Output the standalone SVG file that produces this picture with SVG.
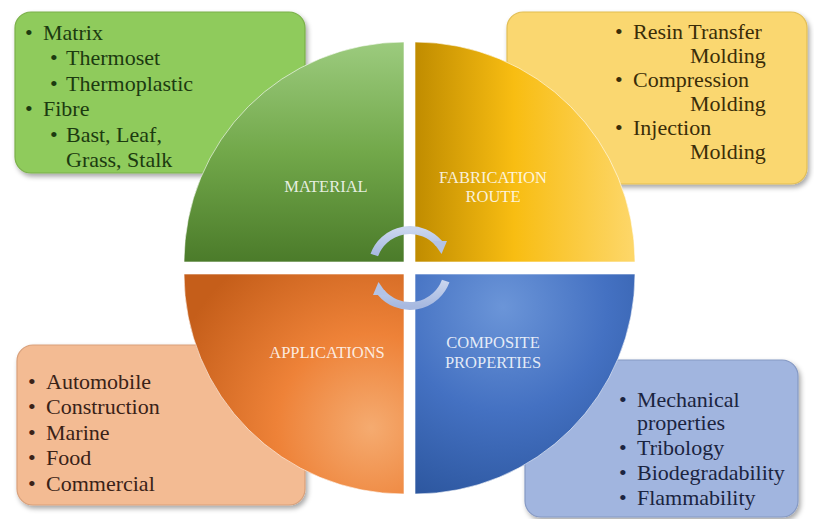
<svg xmlns="http://www.w3.org/2000/svg" width="814" height="519" viewBox="0 0 814 519">
<defs>
<filter id="sh" x="-10%" y="-10%" width="125%" height="125%">
<feDropShadow dx="2" dy="3" stdDeviation="2.5" flood-color="#000" flood-opacity="0.35"/>
</filter>
<linearGradient id="gGreen" x1="0" y1="0" x2="0" y2="1">
<stop offset="0" stop-color="#9ccb7e"/>
<stop offset="0.5" stop-color="#72a84a"/>
<stop offset="1" stop-color="#4b7b2a"/>
</linearGradient>
<linearGradient id="gYellow" x1="0" y1="0" x2="1" y2="0">
<stop offset="0" stop-color="#c08c00"/>
<stop offset="0.45" stop-color="#f8bd12"/>
<stop offset="1" stop-color="#fdd76a"/>
</linearGradient>
<radialGradient id="gOrange" cx="0.85" cy="0.7" r="0.95">
<stop offset="0" stop-color="#f5ab70"/>
<stop offset="0.45" stop-color="#ee8238"/>
<stop offset="1" stop-color="#c55e1a"/>
</radialGradient>
<radialGradient id="gBlue" cx="0.4" cy="0.15" r="0.95">
<stop offset="0" stop-color="#6b95d8"/>
<stop offset="0.5" stop-color="#4471c2"/>
<stop offset="1" stop-color="#2c569e"/>
</radialGradient>
<linearGradient id="gArrow" x1="0" y1="0" x2="0" y2="1">
<stop offset="0" stop-color="#c9d5ee"/>
<stop offset="1" stop-color="#a7b9e0"/>
</linearGradient>
</defs>
<style>
.box{stroke-width:1.2;filter:url(#sh)}
.t{font-family:"Liberation Serif","Times New Roman",serif;font-size:22px}
.q{font-family:"Liberation Serif","Times New Roman",serif;font-size:16.5px;fill:#ffffff;fill-opacity:0.85;text-anchor:middle}
.quad{stroke:#ffffff;stroke-opacity:0.6;stroke-width:1}
.arc{fill:none;stroke:url(#gArrow);stroke-width:8}
.head{fill:#b3c3e6}
</style>

<g id="box-material">
<rect class="box" x="15" y="12" width="290" height="161" rx="16" fill="#8fcb5c" stroke="#7bb04a"/>
<g class="t" fill="#1c3a10">
<text x="25" y="40">•</text><text x="43" y="40">Matrix</text>
<text x="50" y="65">•</text><text x="66" y="65">Thermoset</text>
<text x="50" y="91">•</text><text x="66" y="91">Thermoplastic</text>
<text x="25" y="116">•</text><text x="43" y="116">Fibre</text>
<text x="50" y="142">•</text><text x="66" y="142">Bast, Leaf,</text>
<text x="66" y="167">Grass, Stalk</text>
</g>
</g>

<g id="box-fabrication">
<rect class="box" x="507" y="12" width="300" height="172" rx="16" fill="#fad76f" stroke="#e2be55"/>
<g class="t" fill="#3a2d08">
<text x="615" y="39">•</text><text x="633" y="39">Resin Transfer</text>
<text x="690" y="63">Molding</text>
<text x="615" y="87">•</text><text x="633" y="87">Compression</text>
<text x="690" y="111">Molding</text>
<text x="615" y="135">•</text><text x="633" y="135">Injection</text>
<text x="690" y="159">Molding</text>
</g>
</g>

<g id="box-applications">
<rect class="box" x="17" y="345" width="288" height="160" rx="16" fill="#f3bb93" stroke="#d9a07a"/>
<g class="t" fill="#3a2217">
<text x="28" y="389">•</text><text x="46" y="389">Automobile</text>
<text x="28" y="414">•</text><text x="46" y="414">Construction</text>
<text x="28" y="440">•</text><text x="46" y="440">Marine</text>
<text x="28" y="465">•</text><text x="46" y="465">Food</text>
<text x="28" y="491">•</text><text x="46" y="491">Commercial</text>
</g>
</g>

<g id="box-properties">
<rect class="box" x="525" y="360" width="273" height="157" rx="16" fill="#a1b5df" stroke="#8599c4"/>
<g class="t" fill="#1b2440">
<text x="619" y="407">•</text><text x="637" y="407">Mechanical</text>
<text x="637" y="430">properties</text>
<text x="619" y="455">•</text><text x="637" y="455">Tribology</text>
<text x="619" y="480">•</text><text x="637" y="480">Biodegradability</text>
<text x="619" y="505">•</text><text x="637" y="505">Flammability</text>
</g>
</g>

<g id="material">
<path class="quad" d="M404,262 L184,262 A220,220 0 0 1 404,42 Z" fill="url(#gGreen)"/>
<text class="q" x="326" y="192">MATERIAL</text>
</g>
<g id="fabrication-route">
<path class="quad" d="M415,262 L415,42 A220,220 0 0 1 635,262 Z" fill="url(#gYellow)"/>
<text class="q" x="493" y="183">FABRICATION</text>
<text class="q" x="493" y="202">ROUTE</text>
</g>
<g id="composite-properties">
<path class="quad" d="M415,274 L635,274 A220,220 0 0 1 415,494 Z" fill="url(#gBlue)"/>
<text class="q" x="493" y="348">COMPOSITE</text>
<text class="q" x="493" y="368">PROPERTIES</text>
</g>
<g id="applications">
<path class="quad" d="M404,274 L404,494 A220,220 0 0 1 184,274 Z" fill="url(#gOrange)"/>
<text class="q" x="327" y="358">APPLICATIONS</text>
</g>

<g id="connectors">
<path class="arc" d="M374.3,255 A38,38 0 0 1 439.1,243.6"/>
<polygon class="head" points="432.5,241 447,241 441.5,254"/>
<path class="arc" d="M445.7,281 A38,38 0 0 1 380.9,292.4"/>
<polygon class="head" points="387.5,295 373,295 378.5,282"/>
</g>
</svg>
